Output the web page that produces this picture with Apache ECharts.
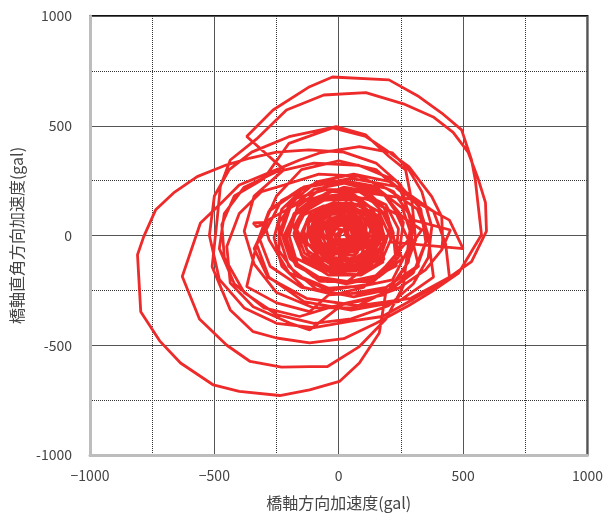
<!DOCTYPE html>
<html>
<head>
<meta charset="utf-8">
<script src="https://cdn.jsdelivr.net/npm/echarts@6/dist/echarts.min.js"></script>
<style>
html, body { margin: 0; padding: 0; background: #fff; }
#chartmain { width: 606px; height: 518px; }
</style>
</head>
<body>
<div id="chartmain"></div>
<script>
// axis ticks
var xTicks = [-1000, -500, 0, 500, 1000];
var yTicks = [-1000, -500, 0, 500, 1000];

// orbit: [bridge-axis, perpendicular] in gal
var onset = [
    [0, 0], [30, 40], [70, 10], [40, -40], [-30, -30], [-50, 30], [10, 80], [90, 60], [120, -20],
    [60, -90], [-50, -80], [-110, 10], [-70, 110], [50, 150], [160, 90], [190, -30], [120, -150],
    [-20, -170], [-150, -90], [-180, 40], [-120, 160], [20, 220], [180, 190], [260, 60], [240, -100],
    [130, -220], [-40, -250], [-200, -170], [-280, -20], [-300, 60], [-344, 57], [-330, 40], [-300, 52],
    [-250, 180], [-150, 300], [0, 340], [150, 300], [250, 200], [300, 50], [280, -120], [200, -250],
    [60, -330], [-100, -330], [-250, -260], [-340, -130], [-380, 20], [-340, 180], [-220, 300]
];
var bigLoops = [
    [-370, 451], [-264, 572], [-117, 678], [-25, 722], [202, 709], [322, 633], [414, 558], [494, 481],
    [534, 344], [549, 253], [574, 3], [482, -171], [374, -255], [280, -320], [150, -400], [20, -470],
    [-117, -489], [-250, -467], [-344, -438], [-436, -339], [-509, -142], [-489, 71], [-476, 223],
    [-436, 344], [-330, 440], [-210, 572], [-60, 640], [109, 651], [260, 600], [380, 540], [460, 470],
    [520, 380], [560, 260], [590, 150], [594, 20], [534, -119], [420, -210], [300, -290], [175, -369],
    [50, -390], [-100, -420], [-250, -400], [-380, -330], [-480, -200], [-520, 0], [-500, 180],
    [-440, 300], [-350, 380], [-200, 450], [-10, 496], [109, 458], [202, 360], [269, 299], [295, 148],
    [309, -20], [269, -142], [200, -250], [189, -262], [163, -444], [83, -581], [3, -665], [-117, -703],
    [-237, -729], [-400, -710], [-504, -681], [-636, -581], [-720, -480], [-796, -347], [-809, -88],
    [-784, -5], [-736, 117], [-664, 194], [-569, 268], [-450, 322], [-356, 353], [-250, 380],
    [-120, 390], [20, 380], [150, 330], [250, 230], [290, 60], [260, -230], [190, -380], [83, -506],
    [-45, -597], [-117, -597], [-230, -600], [-356, -574], [-450, -500], [-560, -380], [-629, -187],
    [-556, 57], [-470, 150], [-400, 230], [-250, 300], [-157, 344], [-77, 376], [83, 405], [216, 376],
    [282, 299], [334, 200], [374, 40], [360, -100], [300, -220], [200, -320], [50, -380], [-100, -400],
    [-250, -360], [-380, -260], [-460, -100], [-470, 50], [-420, 180], [-300, 260], [-200, 420],
    [-25, 490], [109, 451], [189, 390], [282, 314], [374, 177], [414, 86], [418, -20], [414, -66],
    [349, -157], [242, -240], [109, -293], [-25, -324], [-157, -369], [-300, -330], [-420, -220],
    [-480, -60], [-460, 100], [-380, 220], [-250, 290]
];
var decay = [
    [-100, 330], [80, 320], [230, 250], [330, 120], [350, -30], [300, -170], [180, -270], [20, -310],
    [-117, -430], [-197, -399], [-344, -325], [-436, -217], [-450, -50], [-400, 100], [-310, 200],
    [-220, 230], [-80, 280], [80, 270], [220, 200], [300, 70], [449, 25], [414, -66], [349, -157],
    [242, -240], [110, -260], [-40, -270], [-117, -347], [-250, -307], [-370, -233], [-330, -40],
    [-290, 30], [-230, 160], [-110, 230], [40, 240], [180, 190], [260, 80], [334, 25], [280, -60],
    [216, -202], [100, -230], [-40, -240], [-170, -180], [-240, -70], [-240, 60], [-170, 170],
    [-50, 210], [80, 200], [190, 140], [240, 30], [230, -90], [160, -180], [40, -210], [-80, -190],
    [-180, -120], [-210, -10], [-180, 100], [-100, 170], [20, 190], [130, 160], [200, 80], [210, -30]
];
var rings = [
    [500, -60], [445, 70], [290, 166], [80, 200], [-130, 166], [-285, 70], [-340, -60], [-285, -190],
    [-130, -286], [80, -320], [290, -286], [445, -190], [430, -40], [381, 110], [240, 221], [50, 260],
    [-140, 221], [-281, 110], [-330, -40], [-281, -190], [-140, -301], [50, -340], [240, -301],
    [381, -190], [360, -10], [316, 120], [190, 216], [20, 250], [-150, 216], [-276, 120], [-320, -10],
    [-276, -140], [-150, -236], [20, -270], [190, -236], [316, -140], [360, 0], [321, 140], [210, 244],
    [60, 280], [-90, 244], [-201, 140], [-240, 0], [-201, -140], [-90, -244], [60, -280], [210, -244],
    [321, -140], [290, 10], [256, 125], [160, 210], [30, 240], [-100, 210], [-196, 125], [-230, 10],
    [-196, -105], [-100, -190], [30, -220], [160, -190], [256, -105], [220, -10], [189, 120],
    [100, 216], [-20, 250], [-140, 216], [-229, 120], [-260, -10], [-229, -140], [-140, -236],
    [-20, -270], [100, -236], [189, -140], [280, -20], [232, 98], [108, 170], [-48, 170], [-172, 98],
    [-220, -20], [-172, -138], [-48, -210], [108, -210], [232, -138], [220, 0], [178, 100], [68, 162],
    [-68, 162], [-178, 100], [-220, 0], [-178, -100], [-68, -162], [68, -162], [178, -100], [220, 10],
    [182, 128], [82, 200], [-42, 200], [-142, 128], [-180, 10], [-142, -108], [-42, -180], [82, -180],
    [182, -108], [160, 0], [126, 130], [36, 209], [-76, 209], [-166, 130], [-200, 0], [-166, -130],
    [-76, -209], [36, -209], [126, -130], [170, 20], [138, 120], [53, 182], [-53, 182], [-138, 120],
    [-170, 20], [-138, -80], [-53, -142], [53, -142], [138, -80], [180, 0], [152, 88], [77, 143],
    [-17, 143], [-92, 88], [-120, 0], [-92, -88], [-17, -143], [77, -143], [152, -88], [150, 30],
    [120, 95], [40, 135], [-60, 135], [-140, 95], [-170, 30], [-140, -35], [-60, -75], [40, -75],
    [120, -35], [160, 0], [137, 88], [77, 143], [3, 143], [-57, 88], [-80, 0], [-57, -88], [3, -143],
    [77, -143], [137, -88]
];
var core = [
    [180, -120], [90, -180], [-30, -170], [-140, -110], [-180, 0], [-150, 100], [-60, 160], [60, 170],
    [160, 110], [200, 10], [170, -90], [80, -150], [-30, -150], [-120, -90], [-150, 10], [-110, 110],
    [-20, 150], [90, 140], [170, 70], [180, -30], [130, -120], [30, -140], [-70, -110], [-130, -30],
    [-120, 60], [-50, 120], [40, 130], [130, 90], [160, 0], [130, -80], [50, -120], [-40, -100],
    [150, 10], [134, 80], [90, 131], [30, 150], [-30, 131], [-74, 80], [-90, 10], [-74, -60],
    [-30, -111], [30, -130], [90, -111], [134, -60], [170, 0], [149, 65], [90, 113], [10, 130],
    [-70, 113], [-129, 65], [-150, 0], [-129, -65], [-70, -113], [10, -130], [90, -113], [149, -65],
    [140, 10], [115, 87], [50, 134], [-30, 134], [-95, 87], [-120, 10], [-95, -67], [-30, -114],
    [50, -114], [115, -67], [160, 20], [133, 79], [63, 115], [-23, 115], [-93, 79], [-120, 20],
    [-93, -39], [-23, -75], [63, -75], [133, -39], [80, 20], [66, 75], [25, 116], [-30, 130],
    [-85, 116], [-126, 75], [-140, 20], [-126, -35], [-85, -76], [-30, -90], [25, -76], [66, -35],
    [160, -10], [147, 40], [110, 77], [60, 90], [10, 77], [-27, 40], [-40, -10], [-27, -60], [10, -97],
    [60, -110], [110, -97], [147, -60], [110, -10], [91, 67], [41, 114], [-21, 114], [-71, 67],
    [-90, -10], [-71, -87], [-21, -134], [41, -134], [91, -87], [130, 30], [109, 95], [54, 135],
    [-14, 135], [-69, 95], [-90, 30], [-69, -35], [-14, -75], [54, -75], [109, -35], [110, 40],
    [98, 85], [65, 118], [20, 130], [-25, 118], [-58, 85], [-70, 40], [-58, -5], [-25, -38], [20, -50],
    [65, -38], [98, -5], [90, -30], [78, 15], [45, 48], [0, 60], [-45, 48], [-78, 15], [-90, -30],
    [-78, -75], [-45, -108], [0, -120], [45, -108], [78, -75], [-100, -40], [-110, 40], [-60, 100],
    [20, 120], [110, 90], [150, 20], [130, -60], [60, -110], [-20, -100], [-90, -50], [-100, 30],
    [-50, 90], [30, 110], [110, 70], [140, 0], [110, -60], [90, 10], [73, 63], [28, 96], [-28, 96],
    [-73, 63], [-90, 10], [-73, -43], [-28, -76], [28, -76], [73, -43], [70, 10], [55, 69], [15, 105],
    [-35, 105], [-75, 69], [-90, 10], [-75, -49], [-35, -85], [15, -85], [55, -49], [100, 20], [92, 50],
    [70, 72], [40, 80], [10, 72], [-12, 50], [-20, 20], [-12, -10], [10, -32], [40, -40], [70, -32],
    [92, -10], [90, 0], [77, 41], [42, 67], [-2, 67], [-37, 41], [-50, 0], [-37, -41], [-2, -67],
    [42, -67], [77, -41], [40, 0], [32, 30], [10, 52], [-20, 60], [-50, 52], [-72, 30], [-80, 0],
    [-72, -30], [-50, -52], [-20, -60], [10, -52], [32, -30], [40, -90], [-30, -80], [-80, -30],
    [-80, 40], [-30, 80], [40, 90], [100, 50], [120, -10], [80, -60], [20, -80], [-40, -60], [-70, 0],
    [-50, 60], [10, 80], [80, 60], [110, 0], [80, -50], [20, -60], [70, 0], [59, 35], [29, 57],
    [-9, 57], [-39, 35], [-50, 0], [-39, -35], [-9, -57], [29, -57], [59, -35], [50, 20], [40, 50],
    [15, 68], [-15, 68], [-40, 50], [-50, 20], [-40, -10], [-15, -28], [15, -28], [40, -10], [70, -10],
    [65, 10], [50, 25], [30, 30], [10, 25], [-5, 10], [-10, -10], [-5, -30], [10, -45], [30, -50],
    [50, -45], [65, -30], [60, 10], [52, 34], [32, 48], [8, 48], [-12, 34], [-20, 10], [-12, -14],
    [8, -28], [32, -28], [52, -14], [-40, -40], [-50, 20], [-10, 60], [50, 60], [90, 20], [70, -40],
    [10, -50], [-30, -10], [-20, 40], [30, 50], [70, 10], [40, -30], [30, 0], [24, 18], [9, 29],
    [-9, 29], [-24, 18], [-30, 0], [-24, -18], [-9, -29], [9, -29], [24, -18], [0, -20], [10, 20],
    [40, 20], [20, 0]
];

var orbit = onset.concat(bigLoops, decay, rings, core);
var textColor = '#444';
var fontFamily = '"Noto Sans CJK JP", "Noto Sans", sans-serif';

var option = {
    animation: false,
    backgroundColor: '#fff',
    grid: {
        left: 90, right: 17, top: 16, bottom: 63,
        show: true,
        borderColor: '#111',
        borderWidth: 2
    },
    xAxis: {
        type: 'value',
        min: xTicks[0], max: xTicks[xTicks.length - 1], interval: 500,
        name: '橋軸方向加速度(gal)',
        nameLocation: 'middle',
        nameGap: 40,
        nameTextStyle: { color: textColor, fontSize: 16, fontFamily: fontFamily },
        axisLine: { onZero: false, lineStyle: { color: '#bdbdbd', width: 3 } },
        axisTick: { show: false },
        axisLabel: {
            color: textColor, fontSize: 14, margin: 14, fontFamily: fontFamily,
            formatter: function(v) { return String(v).replace('-', '\u2212'); }
        },
        splitLine: { lineStyle: { color: '#555', width: 1 } },
        minorTick: { show: false, splitNumber: 2 },
        minorSplitLine: { show: true, lineStyle: { color: '#333', type: 'dotted', width: 1 } }
    },
    yAxis: {
        type: 'value',
        min: yTicks[0], max: yTicks[yTicks.length - 1], interval: 500,
        name: '橋軸直角方向加速度(gal)',
        nameLocation: 'middle',
        nameGap: 64,
        nameTextStyle: { color: textColor, fontSize: 16, fontFamily: fontFamily },
        axisLine: { onZero: false, lineStyle: { color: '#bdbdbd', width: 3 } },
        axisTick: { show: false },
        axisLabel: {
            color: textColor, fontSize: 14, margin: 18, fontFamily: fontFamily,
            formatter: function(v) { return String(v); }
        },
        splitLine: { lineStyle: { color: '#555', width: 1 } },
        minorTick: { show: false, splitNumber: 2 },
        minorSplitLine: { show: true, lineStyle: { color: '#333', type: 'dotted', width: 1 } }
    },
    series: [{
        type: 'line',
        data: orbit,
        showSymbol: false,
        smooth: false,
        lineStyle: { color: '#ee2a2a', width: 2.8 }
    }]
};

var myChart = echarts.init(document.getElementById('chartmain'));
myChart.setOption(option);
</script>
</body>
</html>
